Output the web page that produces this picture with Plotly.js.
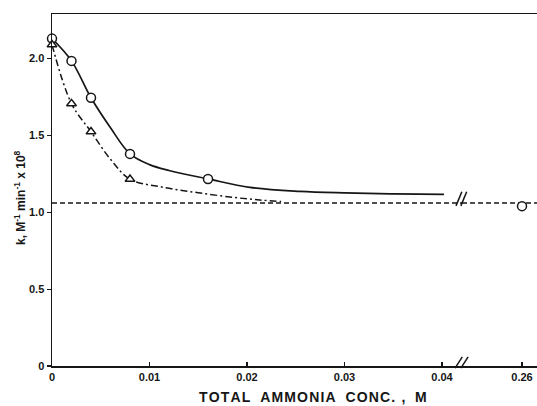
<!DOCTYPE html>
<html>
<head>
<meta charset="utf-8">
<script src="https://cdn.plot.ly/plotly-3.0.1.min.js"></script>
<style>html,body{margin:0;padding:0;background:#fff;}#chart{width:537px;height:406px;}</style>
</head>
<body>
<div id="chart"></div>
<script>
// Measured points (total ammonia conc., M ; k x 10^8)
var circleX = [0, 0.002, 0.004, 0.008, 0.016];
var circleY = [2.13, 1.985, 1.745, 1.38, 1.217];
var triangleX = [0, 0.002, 0.004, 0.008];
var triangleY = [2.09, 1.707, 1.524, 1.215];
var farCircleX = [0.26];
var farCircleY = [1.04];

// Curves
var solidX = [0, 0.002, 0.004, 0.006, 0.008, 0.010, 0.012, 0.016, 0.0203, 0.0254, 0.030, 0.035, 0.0402];
var solidY = [2.13, 1.985, 1.745, 1.55, 1.38, 1.31, 1.272, 1.217, 1.162, 1.136, 1.126, 1.12, 1.116];
var dashDotX = [0, 0.002, 0.004, 0.006, 0.008, 0.0114, 0.0150, 0.0186, 0.0213, 0.0235];
var dashDotY = [2.09, 1.707, 1.524, 1.345, 1.215, 1.163, 1.127, 1.097, 1.08, 1.07];
var limitX = [0, 0.04205];
var limitY = [1.06, 1.06];
var limitX2 = [0.25384, 0.26154];
var limitY2 = [1.06, 1.06];

// Axis ticks
var xTickVals = [0, 0.01, 0.02, 0.03, 0.04];
var xTickText = ["0", "0.01", "0.02", "0.03", "0.04"];
var x2TickVals = [0.26];
var x2TickText = ["0.26"];
var yTickVals = [0, 0.5, 1.0, 1.5, 2.0];
var yTickText = ["0", "0.5", "1.0", "1.5", "2.0"];

var xTitleWords = ["TOTAL", "AMMONIA", "CONC. ,", "M"];
var yTitle = "k, M<sup>-1</sup> min<sup>-1</sup> x 10<sup>8</sup>";

var ink = "#161616";
var lw = 1.7;

var traces = [
  {x: solidX, y: solidY, xaxis: "x", yaxis: "y", mode: "lines",
   line: {color: ink, width: lw, shape: "spline", smoothing: 1.0}, cliponaxis: false, hoverinfo: "skip"},
  {x: dashDotX, y: dashDotY, xaxis: "x", yaxis: "y", mode: "lines",
   line: {color: ink, width: 1.5, shape: "spline", smoothing: 1.0, dash: "7px,3px,2px,3px"}, cliponaxis: false},
  {x: limitX, y: limitY, xaxis: "x", yaxis: "y", mode: "lines",
   line: {color: ink, width: 1.5, dash: "5px,3px"}},
  {x: limitX2, y: limitY2, xaxis: "x2", yaxis: "y", mode: "lines",
   line: {color: ink, width: 1.5, dash: "5px,3px"}},
  {x: circleX, y: circleY, xaxis: "x", yaxis: "y", mode: "markers", cliponaxis: false,
   marker: {symbol: "circle", size: 9, color: "#fff", line: {color: ink, width: 1.5}}},
  {x: triangleX, y: triangleY, xaxis: "x", yaxis: "y", mode: "markers", cliponaxis: false,
   marker: {symbol: "triangle-up", size: 8.5, color: "#fff", line: {color: ink, width: 1.5}}},
  {x: farCircleX, y: farCircleY, xaxis: "x2", yaxis: "y", mode: "markers", cliponaxis: false,
   marker: {symbol: "circle", size: 9, color: "#fff", line: {color: ink, width: 1.5}}}
];

var tickFont = {family: "Liberation Sans, Arial, sans-serif", size: 11, color: ink, weight: "bold"};

var axisCommon = {
  showgrid: false, zeroline: false, showline: true, linecolor: ink, linewidth: 1.5,
  ticks: "inside", ticklen: 4, tickwidth: 1.2, tickcolor: ink, tickfont: tickFont, mirror: true
};

var brk = function (x0, y0, x1, y1) {
  return {type: "line", xref: "paper", yref: "paper", x0: x0, y0: y0, x1: x1, y1: y1,
          line: {color: ink, width: 1.5}};
};

// letter-spaced axis title (hair spaces between letters, wider gaps between words)
var spaced = xTitleWords.map(function (w) { return w.split("").join("\u200A"); }).join("\u2002\u2009");

var layout = {
  width: 537, height: 406,
  margin: {l: 52, r: 0, t: 14, b: 40},
  paper_bgcolor: "#fff", plot_bgcolor: "#fff",
  showlegend: false,
  xaxis: Object.assign({}, axisCommon, {
    domain: [0, 0.8454], range: [0, 0.04205], anchor: "y",
    tickmode: "array", tickvals: xTickVals, ticktext: xTickText
  }),
  xaxis2: Object.assign({}, axisCommon, {
    domain: [0.8454, 1], range: [0.25384, 0.26154], anchor: "y",
    tickmode: "array", tickvals: x2TickVals, ticktext: x2TickText
  }),
  yaxis: {
    domain: [0, 1], range: [0, 2.29], anchor: "x",
    showgrid: false, zeroline: false, showline: true, linecolor: ink, linewidth: 1.5,
    ticks: "outside", ticklen: 4, tickwidth: 1.2, tickcolor: ink, tickfont: tickFont,
    tickmode: "array", tickvals: yTickVals, ticktext: yTickText
  },
  shapes: [
    brk(0.831, -0.006, 0.846, 0.026),
    brk(0.843, -0.006, 0.858, 0.026),
    brk(0.833, 0.455, 0.845, 0.495),
    brk(0.843, 0.455, 0.855, 0.495)
  ],
  annotations: [
    {text: spaced, xref: "paper", yref: "paper", x: 0.538, y: -0.088,
     xanchor: "center", yanchor: "middle", showarrow: false,
     font: {family: "Liberation Sans, Arial, sans-serif", size: 14, color: ink, weight: "bold"}},
    {text: yTitle, xref: "paper", yref: "paper",
     x: -0.066, y: 0.48, textangle: -90, xanchor: "center", yanchor: "middle", showarrow: false,
     font: {family: "Liberation Sans, Arial, sans-serif", size: 12, color: ink, weight: "bold"}}
  ]
};

Plotly.newPlot("chart", traces, layout, {displayModeBar: false, staticPlot: true});
</script>
</body>
</html>
